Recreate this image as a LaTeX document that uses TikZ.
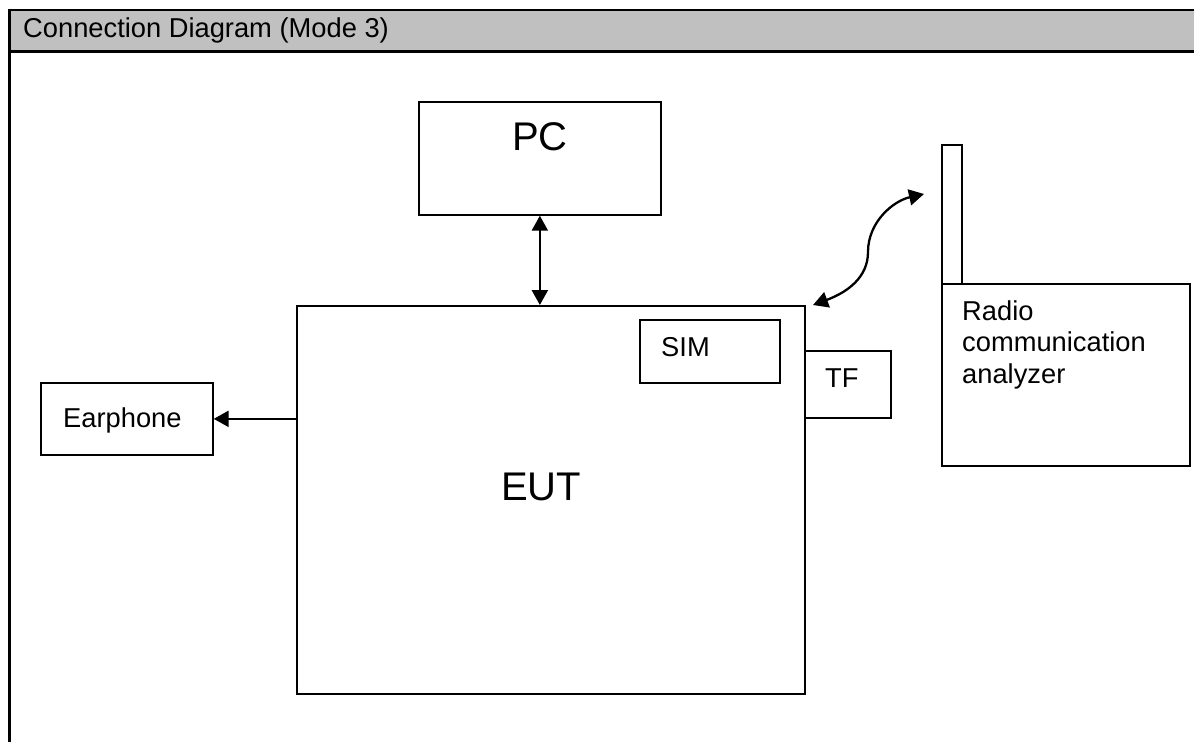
\documentclass[tikz,border=0pt]{standalone}
\usepackage{fontspec}
\setmainfont{Liberation Sans}
\usetikzlibrary{arrows.meta}
\definecolor{hdr}{RGB}{192,192,192}
\begin{document}
\begin{tikzpicture}[x=1pt,y=-1pt,
  frame/.style={line width=2.8pt},
  box/.style={draw, line width=1.7pt, inner sep=0pt, anchor=north west},
  small/.style={font=\fontsize{27.3}{31.5}\selectfont, inner sep=0pt},
  big/.style={font=\fontsize{40}{46}\selectfont, inner sep=0pt},
  link/.style={line width=2.3pt, {Triangle[length=15pt,width=16pt]}-{Triangle[length=15pt,width=16pt]}},
  onelink/.style={line width=2.3pt, -{Triangle[length=15pt,width=16pt]}}]
\useasboundingbox (0,0) rectangle (1194,742);
% table header
\fill[hdr] (9.5,10) rectangle (1194,51.5);
\draw[frame] (8.1,10) -- (1194,10);
\draw[frame] (8.1,51.5) -- (1194,51.5);
\draw[frame] (9.5,8.6) -- (9.5,742);
\node[small, anchor=base west] (title) at (23,37.5) {Connection Diagram (Mode 3)};
% boxes
\node[box, minimum width=242pt, minimum height=113pt] (pc) at (418,101) {};
\node[big, anchor=base west] (pct) at (512,150) {PC};
\node[box, minimum width=508pt, minimum height=388pt] (eut) at (296,305) {};
\node[big, anchor=base] (eutt) at (541,500) {EUT};
\node[box, minimum width=140pt, minimum height=63pt] (sim) at (639,319) {};
\node[small, anchor=base west] (simt) at (661,356) {SIM};
\node[box, minimum width=86pt, minimum height=67pt] (tf) at (804,350) {};
\node[small, anchor=base west] (tft) at (825,387) {TF};
\node[box, minimum width=172pt, minimum height=72pt] (ear) at (40,382) {};
\node[small, anchor=base west] (eart) at (63,427) {Earphone};
\node[box, minimum width=20pt, minimum height=139pt] (ant) at (941,144) {};
\node[box, minimum width=248pt, minimum height=182pt] (rca) at (941,283) {};
\node[small, anchor=base west, align=left] (rcat) at (962,383) {Radio\\communication\\analyzer};
% connectors
\draw[link] (pc.south) -- (pc.south |- eut.north);
\draw[onelink] (eut.west |- ear.east) -- (ear.east);
\coordinate (w1) at (813,305);
\coordinate (w2) at (924,194);
\draw[link] (w1) .. controls (848,292) and (868,277) .. (868,252)
  .. controls (868,222) and (893,201) .. (w2);
\end{tikzpicture}
\end{document}
